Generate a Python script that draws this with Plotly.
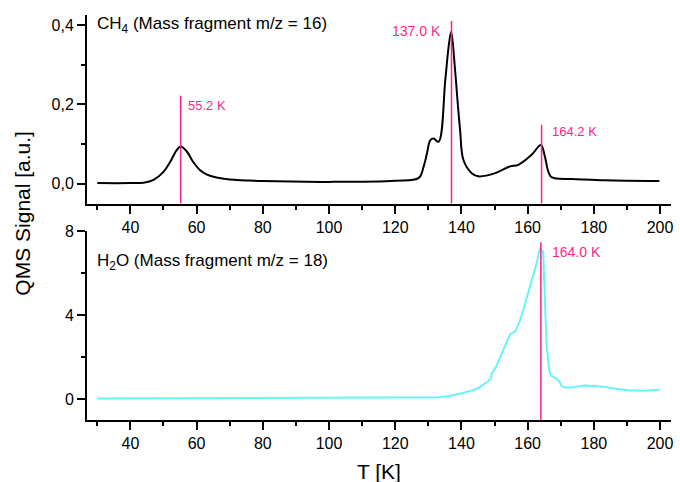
import plotly.graph_objects as go

# ---- data ----
ch4_T = [30, 40, 44, 47, 50, 52, 54, 55.2, 57, 59, 61, 63, 66, 70, 80, 100, 120, 127.1,
         128.6, 129.6, 130.6, 131.6, 133.1, 135.1, 136.1, 136.9, 138.1, 138.9, 139.6,
         140.6, 143.1, 145.1, 150.2, 154.7, 157.2, 161.2, 164.0, 165.2, 166.2, 167.2,
         173.2, 183.3, 199.8]
ch4_S = [0.002, 0.002, 0.003, 0.010, 0.030, 0.055, 0.085, 0.094, 0.082, 0.055, 0.035,
         0.024, 0.016, 0.011, 0.007, 0.005, 0.008, 0.015,
         0.044, 0.077, 0.110, 0.114, 0.106, 0.259, 0.343, 0.383, 0.284, 0.201, 0.135,
         0.060, 0.027, 0.019, 0.027, 0.044, 0.048, 0.073, 0.098, 0.069, 0.032, 0.017,
         0.012, 0.009, 0.007]

h2o_T = [30, 60, 103, 128, 133.1, 136, 138, 140.1, 142, 144, 145.5, 146.8, 148.0, 148.9,
         149.2, 150.5, 151.5, 152.5, 153.6, 154.7, 156.2, 157.5, 158.5, 159.5, 160.5,
         161.5, 162.5, 163.7, 164.7, 165.7, 166.5, 167.0, 168.7, 169.5, 170.3, 171.5,
         173.5, 177.3, 183.3, 186, 190.3, 195, 199.8]
h2o_S = [0.02, 0.03, 0.05, 0.06, 0.09, 0.13, 0.19, 0.28, 0.36, 0.45, 0.56, 0.70, 0.85, 0.98,
         1.25, 1.55, 1.90, 2.25, 2.65, 3.09, 3.21, 3.65, 4.15, 4.70, 5.20,
         5.70, 6.35, 7.15, 7.02, 2.60, 1.40, 1.12, 0.98, 0.85, 0.62, 0.54,
         0.56, 0.65, 0.58, 0.50, 0.42, 0.40, 0.44]

ch4_peaks = [55.2, 137.0, 164.2]
ch4_peak_tops = [0.222, 0.41, 0.149]
ch4_labels = ["55.2 K", "137.0 K", "164.2 K"]
h2o_peaks = [164.0]
h2o_peak_tops = [7.48]
h2o_labels = ["164.0 K"]

x_range = [26.9, 203.3]
y1_range = [-0.05, 0.425]
y2_range = [-1.0, 8.0]

MAG = "#ff1f8c"
CYAN = "#66f5f5"
FONT = "Liberation Sans, Arial, sans-serif"

fig = go.Figure()

fig.add_trace(go.Scatter(x=ch4_T, y=ch4_S, mode="lines", line=dict(color="black", width=2),
                         line_shape="spline", xaxis="x", yaxis="y", showlegend=False))
fig.add_trace(go.Scatter(x=h2o_T, y=h2o_S, mode="lines", line=dict(color=CYAN, width=2),
                         xaxis="x2", yaxis="y2", showlegend=False))

for t, top in zip(ch4_peaks, ch4_peak_tops):
    fig.add_trace(go.Scatter(x=[t, t], y=[y1_range[0], top], mode="lines",
                             line=dict(color=MAG, width=1.5), xaxis="x", yaxis="y",
                             showlegend=False))
for t, top in zip(h2o_peaks, h2o_peak_tops):
    fig.add_trace(go.Scatter(x=[t, t], y=[y2_range[0], top], mode="lines",
                             line=dict(color=MAG, width=1.5), xaxis="x2", yaxis="y2",
                             showlegend=False))

annotations = [
    dict(x=ch4_peaks[0] + 1.6, y=0.197, xref="x", yref="y", text=ch4_labels[0],
         xanchor="left", yanchor="middle", showarrow=False, font=dict(size=13, color=MAG)),
    dict(x=ch4_peaks[1] - 2.7, y=0.386, xref="x", yref="y", text=ch4_labels[1],
         xanchor="right", yanchor="middle", showarrow=False, font=dict(size=14, color=MAG)),
    dict(x=ch4_peaks[2] + 2.4, y=0.132, xref="x", yref="y", text=ch4_labels[2],
         xanchor="left", yanchor="middle", showarrow=False, font=dict(size=13, color=MAG)),
    dict(x=h2o_peaks[0] + 2.6, y=7.02, xref="x2", yref="y2", text=h2o_labels[0],
         xanchor="left", yanchor="middle", showarrow=False, font=dict(size=14, color=MAG)),
    dict(x=29.4, y=0.400, xref="x", yref="y", text="CH<sub>4</sub> (Mass fragment m/z = 16)",
         xanchor="left", yanchor="middle", showarrow=False, font=dict(size=17, color="black")),
    dict(x=29.4, y=6.55, xref="x2", yref="y2", text="H<sub>2</sub>O (Mass fragment m/z = 18)",
         xanchor="left", yanchor="middle", showarrow=False, font=dict(size=17, color="black")),
    dict(x=-0.111, y=0.51, xref="paper", yref="paper", text="QMS Signal [a.u.]",
         textangle=-90, showarrow=False, xanchor="center", yanchor="middle",
         font=dict(size=21, color="black")),
    dict(x=0.5, y=-0.127, xref="paper", yref="paper", text="T [K]", showarrow=False,
         xanchor="center", yanchor="middle", font=dict(size=21, color="black")),
]

axis_common = dict(showline=True, linecolor="black", linewidth=2, mirror=False,
                   showgrid=False, zeroline=False, ticks="outside", ticklen=8,
                   tickwidth=1.5, tickcolor="black", tickfont=dict(size=16, color="black"))

fig.update_layout(
    width=680, height=482,
    margin=dict(l=87, r=7, t=10, b=62),
    paper_bgcolor="white", plot_bgcolor="white",
    font=dict(family=FONT, color="black"),
    separators=",.",
    showlegend=False,
    xaxis=dict(domain=[0, 1], range=x_range, anchor="y", dtick=20, tick0=0,
               minor=dict(dtick=10, ticks="outside", ticklen=4, tickcolor="black"),
               **axis_common),
    yaxis=dict(domain=[0.534, 1], range=y1_range, anchor="x", dtick=0.2, tick0=0,
               tickformat=".1f",
               minor=dict(dtick=0.1, ticks="outside", ticklen=4, tickcolor="black"),
               **axis_common),
    xaxis2=dict(domain=[0, 1], range=x_range, anchor="y2", dtick=20, tick0=0,
                minor=dict(dtick=10, ticks="outside", ticklen=4, tickcolor="black"),
                **axis_common),
    yaxis2=dict(domain=[0, 0.466], range=y2_range, anchor="x2", dtick=4, tick0=0,
                minor=dict(dtick=2, ticks="outside", ticklen=4, tickcolor="black"),
                **axis_common),
    annotations=annotations,
)

fig.write_html("out.html")
